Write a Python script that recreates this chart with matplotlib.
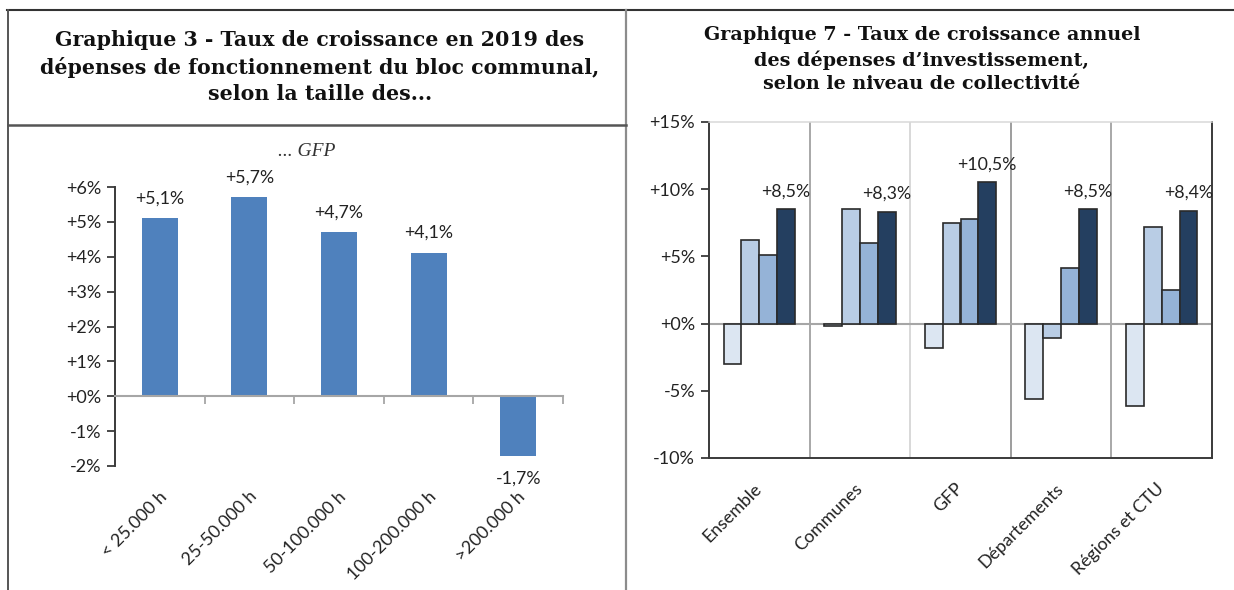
import matplotlib
matplotlib.use("Agg")
import matplotlib.pyplot as plt
from matplotlib.lines import Line2D
from matplotlib.ticker import FuncFormatter, FixedLocator
import matplotlib.transforms as mtransforms

# ---------------- data ----------------
left_title = "Graphique 3 - Taux de croissance en 2019 des\ndépenses de fonctionnement du bloc communal,\nselon la taille des..."
left_subtitle = "... GFP"
left_categories = ["< 25.000 h", "25-50.000 h", "50-100.000 h", "100-200.000 h", ">200.000 h"]
left_values = [5.1, 5.7, 4.7, 4.1, -1.7]
left_yticks = [-2, -1, 0, 1, 2, 3, 4, 5, 6]

right_title = "Graphique 7 - Taux de croissance annuel\ndes dépenses d\u2019investissement,\nselon le niveau de collectivité"
right_categories = ["Ensemble", "Communes", "GFP", "Départements", "Régions et CTU"]
series_1 = [-3.0, -0.2, -1.8, -5.6, -6.1]
series_2 = [6.2, 8.5, 7.5, -1.1, 7.2]
series_3 = [5.1, 6.0, 7.8, 4.1, 2.5]
series_4 = [8.5, 8.3, 10.5, 8.5, 8.4]
labelled_series = series_4
right_yticks = [-10, -5, 0, 5, 10, 15]

# ---------------- style ----------------
W, H = 1234, 590
fig = plt.figure(figsize=(W / 100, H / 100), dpi=100)
sans = ["Lato", "DejaVu Sans"]
serif_bold = ["DejaVu Serif"]
plt.rcParams["font.family"] = sans

def fx(px):
    return px / W

def fy(py):
    return 1 - py / H

def pct(v, decimals=0):
    s = f"{v:+.{decimals}f}%"
    return s.replace(".", ",")

# frame lines
fig.add_artist(Line2D([fx(7), 1], [fy(10), fy(10)], color="#333333", lw=1.5))
fig.add_artist(Line2D([fx(8), fx(8)], [0, fy(10)], color="#555555", lw=1.4))
fig.add_artist(Line2D([fx(626), fx(626)], [0, fy(10)], color="#8c8c8c", lw=1.6))
fig.add_artist(Line2D([fx(8), fx(626)], [fy(125), fy(125)], color="#555555", lw=1.8))

# titles
fig.text(fx(320), fy(67), left_title, ha="center", va="center", fontsize=14.8,
         fontweight="bold", family=serif_bold, linespacing=1.4, color="#111111")
fig.text(fx(922), fy(59.5), right_title, ha="center", va="center", fontsize=13.8,
         fontweight="bold", family=serif_bold, linespacing=1.36, color="#111111")
fig.text(fx(307), fy(152), left_subtitle, ha="center", va="center", fontsize=14,
         style="italic", family=["Liberation Serif", "DejaVu Serif"], color="#333333")

# ---------------- left chart ----------------
ax1 = fig.add_axes([fx(115), fy(466), fx(563) - fx(115), fy(187) - fy(466)])
x1 = list(range(len(left_categories)))
ax1.bar(x1, left_values, width=0.4, color="#4f81bd", zorder=2)
ax1.set_xlim(-0.5, len(left_categories) - 0.5)
ax1.set_ylim(min(left_yticks), max(left_yticks))
ax1.set_yticks(left_yticks)
ax1.yaxis.set_major_formatter(FuncFormatter(lambda v, p: pct(v)))
for s in ["top", "right"]:
    ax1.spines[s].set_visible(False)
ax1.spines["left"].set_color("#3a3a3a")
ax1.spines["left"].set_linewidth(1.4)
ax1.spines["bottom"].set_position(("data", 0))
ax1.spines["bottom"].set_color("#a6a6a6")
ax1.spines["bottom"].set_linewidth(1.5)
ax1.set_xticks([])
ax1.xaxis.set_minor_locator(FixedLocator([i + 0.5 for i in x1]))
ax1.tick_params(axis="x", which="minor", length=6, width=1.3, color="#a6a6a6", direction="out")
ax1.tick_params(axis="y", length=6, width=1.3, color="#3a3a3a", labelsize=13, pad=4,
                labelcolor="#222222")
for xi, v in zip(x1, left_values):
    off = 14.5 if v >= 0 else -16.5
    ax1.annotate(pct(v, 1), (xi, v), xytext=(0, off), textcoords="offset points",
                 ha="center", va="center", fontsize=12.8, color="#222222")
trans1 = mtransforms.blended_transform_factory(ax1.transData, ax1.transAxes)
for xi, lab in zip(x1, left_categories):
    ax1.text(xi - 0.01, -0.08, lab, transform=trans1, rotation=45, rotation_mode="anchor",
             ha="right", va="top", fontsize=12.8, color="#222222")

# ---------------- right chart ----------------
ax2 = fig.add_axes([fx(709), fy(458), fx(1212) - fx(709), fy(122) - fy(458)])
x2 = list(range(len(right_categories)))
series = [series_1, series_2, series_3, series_4]
colors = ["#dce6f2", "#b9cde5", "#95b3d7", "#243f60"]
n = len(series)
bw = 0.71 / n
for k, (vals, col) in enumerate(zip(series, colors)):
    pos = [xi + (k - (n - 1) / 2) * bw for xi in x2]
    ax2.bar(pos, vals, width=bw, color=col, edgecolor="#2a2a2a", linewidth=1.2, zorder=3)
    if vals is labelled_series:
        for p, v in zip(pos, vals):
            ax2.annotate(pct(v, 1), (p, v), xytext=(0, 13), textcoords="offset points",
                         ha="center", va="center", fontsize=12.8, color="#222222", zorder=4)
ax2.axhline(0, color="#a6a6a6", lw=1.5, zorder=2)
grid_colors = ["#9a9a9a", "#d2d2d2", "#8c8c8c", "#9a9a9a"]
for i, gc in zip(range(1, len(right_categories)), grid_colors):
    ax2.axvline(i - 0.5, color=gc, lw=1.2, zorder=1)
ax2.set_xlim(-0.5, len(right_categories) - 0.5)
ax2.set_ylim(min(right_yticks), max(right_yticks))
ax2.set_yticks(right_yticks)
ax2.yaxis.set_major_formatter(FuncFormatter(lambda v, p: pct(v)))
ax2.set_xticks(x2)
ax2.set_xticklabels(right_categories, rotation=45, ha="right", va="center",
                    rotation_mode="anchor", fontsize=12.8, color="#222222")
ax2.tick_params(axis="x", length=0, pad=20)
ax2.tick_params(axis="y", length=6, width=1.3, color="#3a3a3a", labelsize=13, pad=4,
                labelcolor="#222222")
for s in ["left", "bottom", "right"]:
    ax2.spines[s].set_color("#3a3a3a")
    ax2.spines[s].set_linewidth(1.4)
ax2.spines["top"].set_color("#d8d8d8")
ax2.spines["top"].set_linewidth(1.1)

fig.savefig("out.png", dpi=100)
